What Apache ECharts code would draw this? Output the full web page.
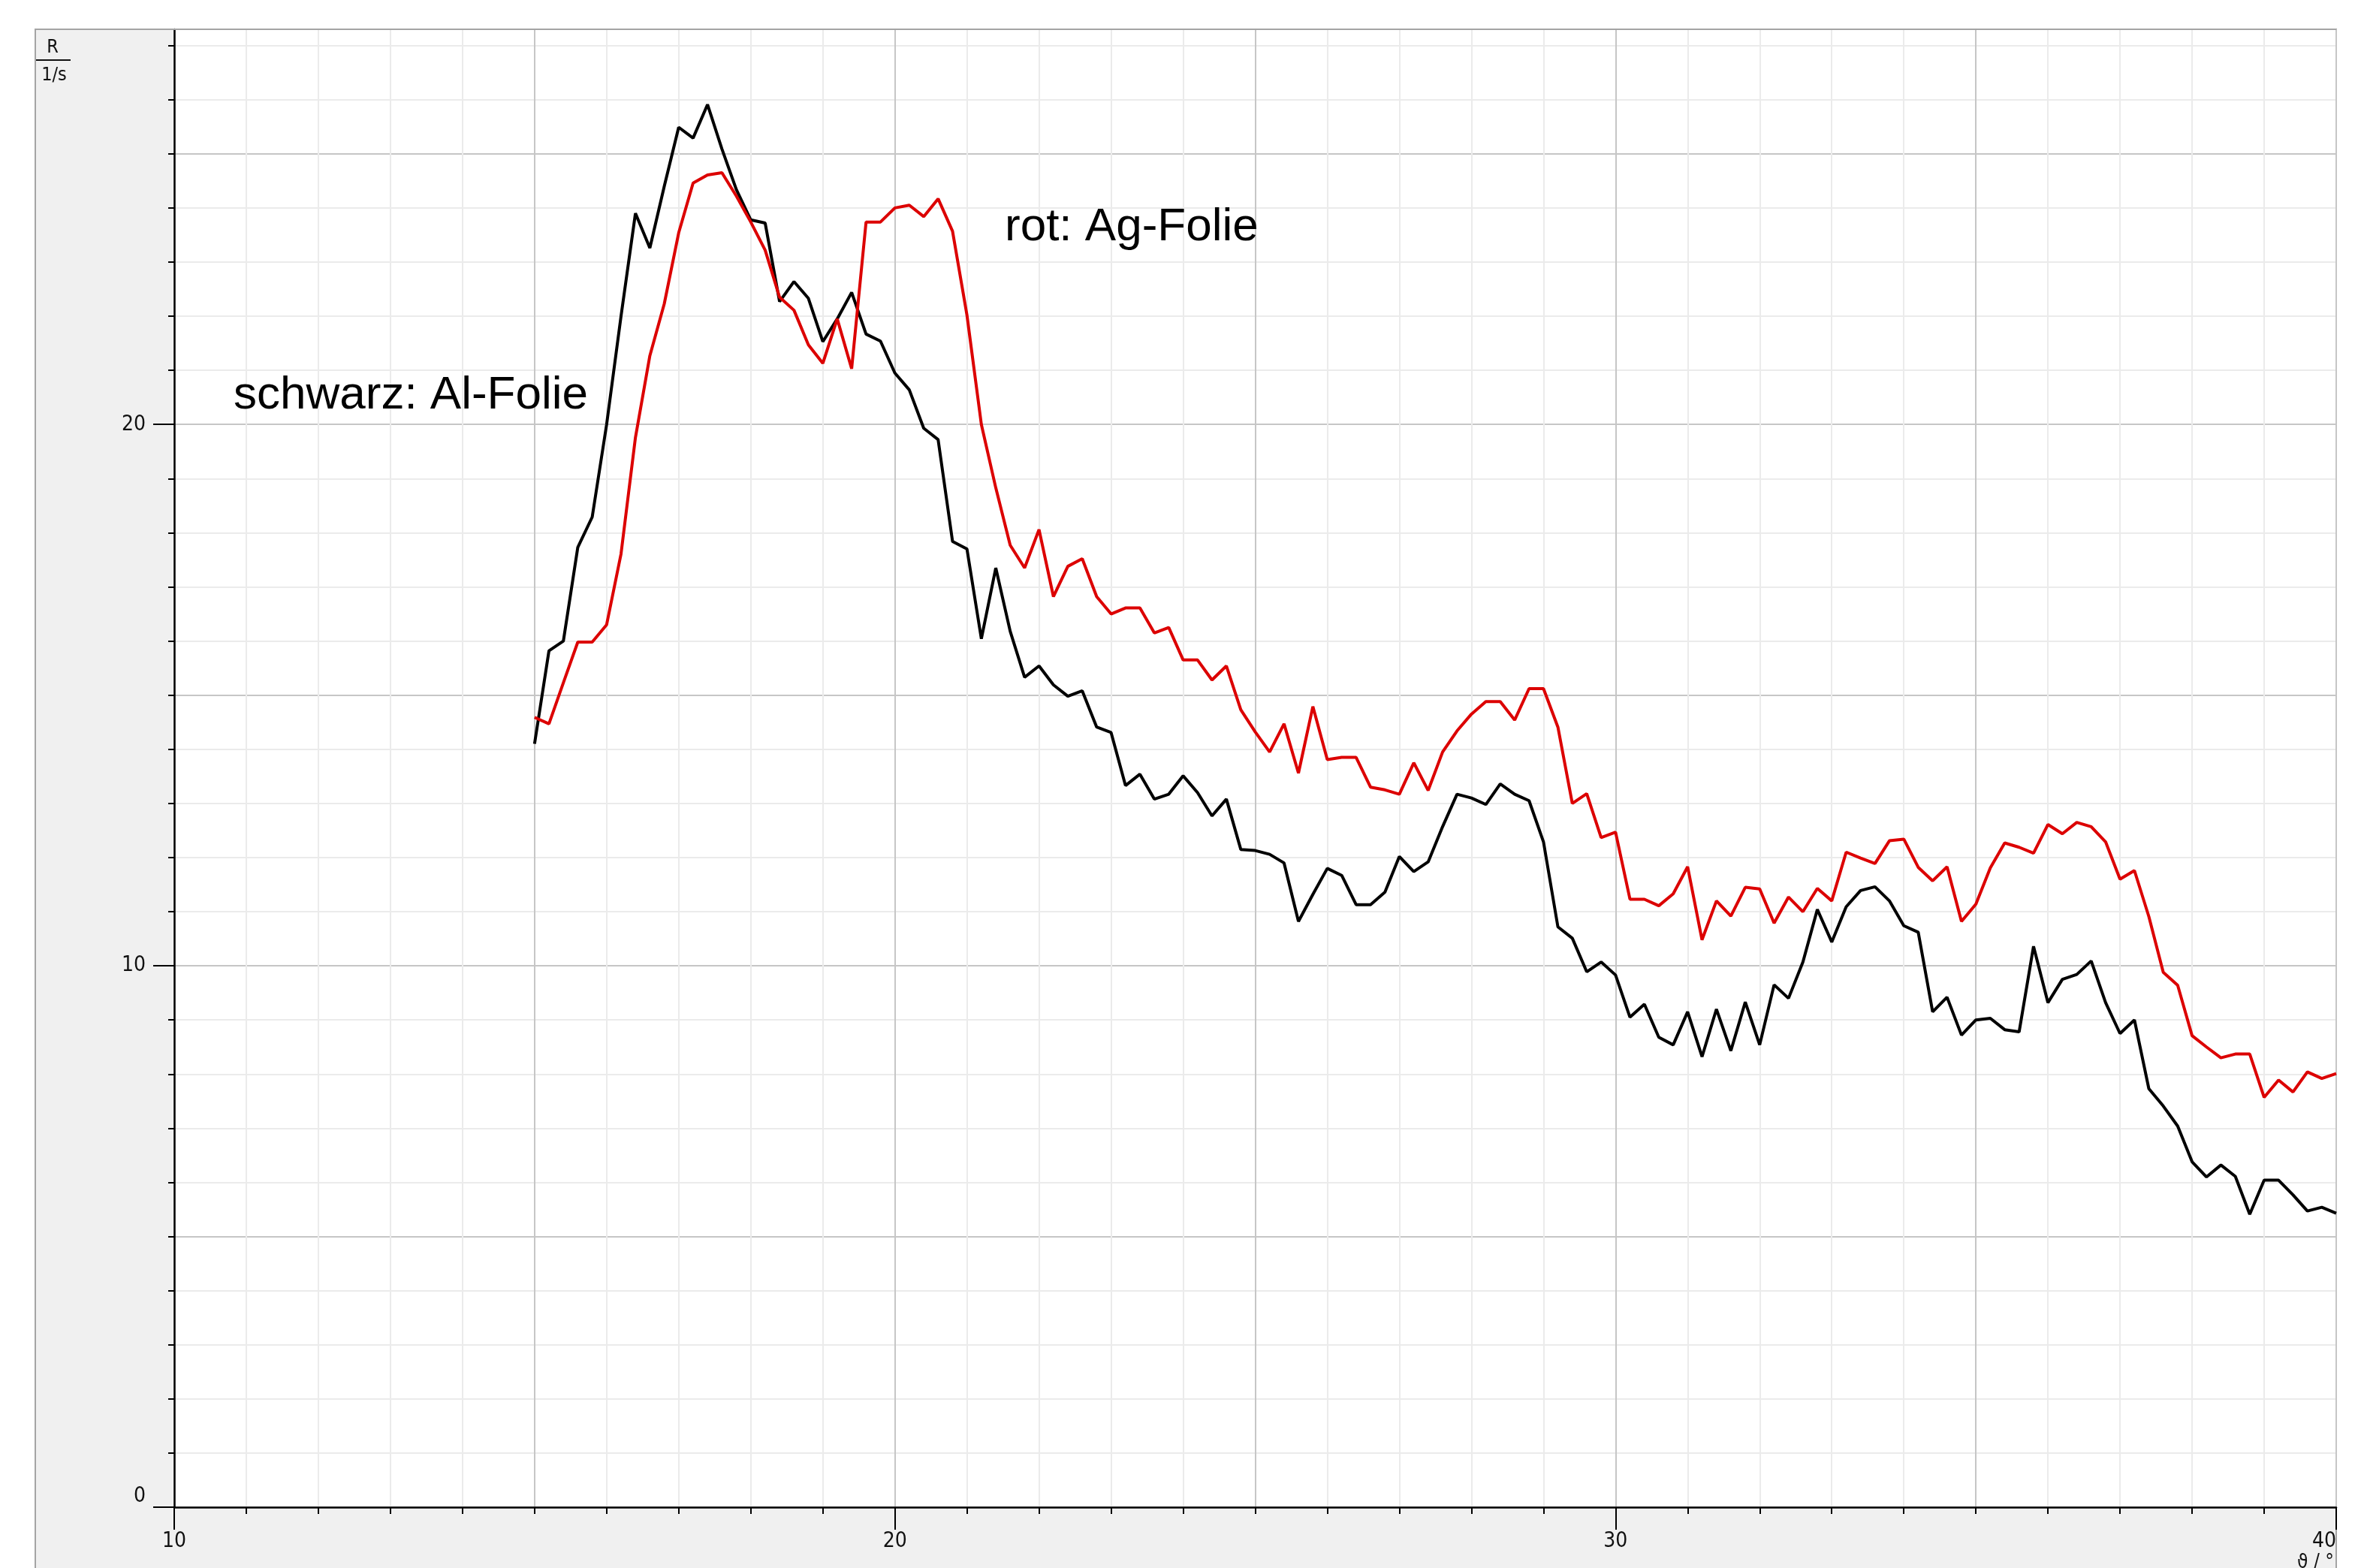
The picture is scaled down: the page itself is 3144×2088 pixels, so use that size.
<!DOCTYPE html>
<html>
<head>
<meta charset="utf-8">
<title>R über Winkel</title>
<script src="https://cdn.jsdelivr.net/npm/echarts@6/dist/echarts.min.js"></script>
<style>
  html, body { margin: 0; padding: 0; background: #fff; }
  #chart { width: 3144px; height: 2088px; }
</style>
</head>
<body>
<div id="chart"></div>
<script>
// Winkel-Raster: 15° bis 40°, Schrittweite 0.2°
const thetaStart = 15;
const thetaStep = 0.2;
const pointCount = 126;

// schwarz: Al-Folie, Zählrate R in 1/s
const rateAl = [
  14.1, 15.82, 16.0, 17.73, 18.29, 20.0, 22.0, 23.9, 23.26, 24.4,
  25.49, 25.29, 25.91, 25.09, 24.34, 23.78, 23.72, 22.27, 22.64, 22.33,
  21.53, 21.95, 22.44, 21.67, 21.54, 20.95, 20.64, 19.93, 19.72, 17.84,
  17.7, 16.04, 17.35, 16.18, 15.33, 15.54, 15.19, 14.98, 15.08, 14.41,
  14.31, 13.33, 13.54, 13.08, 13.17, 13.51, 13.2, 12.77, 13.08, 12.15,
  12.13, 12.06, 11.9, 10.82, 11.32, 11.8, 11.67, 11.13, 11.13, 11.36,
  12.02, 11.74, 11.92, 12.57, 13.17, 13.1, 12.98, 13.36, 13.17, 13.05,
  12.29, 10.72, 10.51, 9.89, 10.07, 9.83, 9.05, 9.29, 8.68, 8.54,
  9.15, 8.32, 9.2, 8.43, 9.33, 8.54, 9.65, 9.4, 10.07, 11.04,
  10.44, 11.09, 11.39, 11.46, 11.2, 10.74, 10.62, 9.15, 9.42, 8.72,
  9.0, 9.03, 8.82, 8.78, 10.36, 9.32, 9.75, 9.84, 10.09, 9.32,
  8.75, 9.0, 7.73, 7.41, 7.04, 6.38, 6.1, 6.32, 6.11, 5.41,
  6.04, 6.04, 5.77, 5.47, 5.54, 5.43
];

// rot: Ag-Folie
const rateAg = [
  14.59, 14.47, 15.23, 15.98, 15.98, 16.3, 17.61, 19.76, 21.27, 22.23,
  23.54, 24.46, 24.61, 24.65, 24.22, 23.74, 23.22, 22.35, 22.11, 21.47,
  21.13, 21.95, 21.03, 23.74, 23.74, 24.0, 24.05, 23.84, 24.17, 23.57,
  22.02, 20.0, 18.83, 17.77, 17.35, 18.06, 16.82, 17.38, 17.52, 16.82,
  16.5, 16.61, 16.61, 16.15, 16.25, 15.65, 15.65, 15.28, 15.54, 14.73,
  14.32, 13.95, 14.47, 13.56, 14.79, 13.81, 13.85, 13.85, 13.3, 13.25,
  13.17, 13.75, 13.24, 13.95, 14.34, 14.65, 14.88, 14.88, 14.54, 15.12,
  15.12, 14.41, 13.0, 13.18, 12.37, 12.47, 11.23, 11.23, 11.11, 11.33,
  11.83, 10.48, 11.2, 10.92, 11.45, 11.42, 10.79, 11.27, 11.0, 11.43,
  11.2, 12.1, 11.99, 11.89, 12.31, 12.34, 11.82, 11.57, 11.83, 10.82,
  11.14, 11.81, 12.27, 12.19, 12.08, 12.61, 12.44, 12.65, 12.57, 12.29,
  11.6, 11.76, 10.91, 9.88, 9.64, 8.71, 8.5, 8.3, 8.37, 8.37,
  7.57, 7.89, 7.67, 8.04, 7.92, 8.01
];

const xLabelTicks = [10, 20, 30, 40];
const yLabelTicks = [0, 10, 20];
const yMinorTicks = [0, 1, 2, 3, 4, 5, 6, 7, 8, 9, 10, 11, 12, 13, 14, 15, 16, 17, 18, 19, 20, 21, 22, 23, 24, 25, 26, 27];

const theta = [];
for (let i = 0; i < pointCount; i++) {
  theta.push(+(thetaStart + thetaStep * i).toFixed(1));
}

const tickFont = "'Liberation Sans Narrow', 'DejaVu Sans Condensed', sans-serif";
const textFont = "'Liberation Sans', Arial, sans-serif";
// jede 5. Gitterlinie dunkler
const gridColors = ["#c6c6c6", "#ebebeb", "#ebebeb", "#ebebeb", "#ebebeb"];
const axisColor = "#000";

const chart = echarts.init(document.getElementById("chart"));

chart.setOption({
  animation: false,
  backgroundColor: "#fff",
  grid: {
    left: 232,
    right: 33,
    top: 39,
    bottom: 81,
    show: true,
    backgroundColor: "#fff",
    borderWidth: 0,
  },
  xAxis: [
    {
      type: "value",
      position: "bottom",
      min: 10,
      max: 40,
      interval: 1,
      axisLine: { show: true, onZero: false, lineStyle: { color: axisColor, width: 2.5 } },
      axisTick: { show: true, length: 9, lineStyle: { color: axisColor, width: 2 } },
      axisLabel: { show: false },
      splitLine: { show: true, lineStyle: { color: gridColors, width: 2 } },
    },
    {
      type: "value",
      position: "bottom",
      min: 10,
      max: 40,
      interval: 10,
      axisLine: { show: false },
      axisTick: { show: true, length: 30, lineStyle: { color: axisColor, width: 2 } },
      axisLabel: {
        show: true,
        customValues: xLabelTicks,
        margin: 32,
        fontSize: 28,
        fontFamily: tickFont,
        color: "#111",
        alignMaxLabel: "right",
      },
      splitLine: { show: false },
    },
  ],
  yAxis: [
    {
      type: "value",
      position: "left",
      min: 0,
      max: 27.3,
      interval: 1,
      axisLine: { show: true, onZero: false, lineStyle: { color: axisColor, width: 2.5 } },
      axisTick: {
        show: true,
        length: 8,
        customValues: yMinorTicks,
        lineStyle: { color: axisColor, width: 2 },
      },
      axisLabel: { show: false },
      splitLine: { show: true, lineStyle: { color: gridColors, width: 2 } },
    },
    {
      type: "value",
      position: "left",
      min: 0,
      max: 27.3,
      interval: 10,
      axisLine: { show: false },
      axisTick: {
        show: true,
        length: 28,
        customValues: yLabelTicks,
        lineStyle: { color: axisColor, width: 2 },
      },
      axisLabel: {
        show: true,
        customValues: yLabelTicks,
        margin: 38,
        fontSize: 28,
        fontFamily: tickFont,
        color: "#111",
        verticalAlignMinLabel: "bottom",
      },
      splitLine: { show: false },
    },
  ],
  graphic: [
    {
      type: "rect",
      z: -5,
      silent: true,
      shape: { x: 47, y: 39, width: 3064, height: 2070 },
      style: { fill: "#f0f0f0", stroke: "#a4a4a4", lineWidth: 2 },
    },
    {
      type: "line",
      z: 50,
      silent: true,
      shape: { x1: 47, y1: 39, x2: 3111, y2: 39 },
      style: { stroke: "#a4a4a4", lineWidth: 2 },
    },
    {
      type: "text",
      z: 50,
      x: 70,
      y: 63,
      style: { text: "R", fontSize: 25, fontFamily: tickFont, fill: "#111", align: "center", verticalAlign: "middle" },
    },
    {
      type: "line",
      z: 50,
      shape: { x1: 48, y1: 80, x2: 94, y2: 80 },
      style: { stroke: "#111", lineWidth: 2 },
    },
    {
      type: "text",
      z: 50,
      x: 72,
      y: 100,
      style: { text: "1/s", fontSize: 25, fontFamily: tickFont, fill: "#111", align: "center", verticalAlign: "middle" },
    },
    {
      type: "text",
      z: 50,
      x: 3108,
      y: 2068,
      style: { text: "ϑ / °", fontSize: 26, fontFamily: tickFont, fill: "#111", align: "right", verticalAlign: "top" },
    },
    {
      type: "text",
      z: 50,
      x: 311,
      y: 527,
      style: { text: "schwarz: Al-Folie", fontSize: 62, fontFamily: textFont, fill: "#000", align: "left", verticalAlign: "middle" },
    },
    {
      type: "text",
      z: 50,
      x: 1338,
      y: 303,
      style: { text: "rot: Ag-Folie", fontSize: 62, fontFamily: textFont, fill: "#000", align: "left", verticalAlign: "middle" },
    },
  ],
  series: [
    {
      name: "Al-Folie",
      type: "line",
      xAxisIndex: 0,
      yAxisIndex: 0,
      symbol: "none",
      lineStyle: { color: "#000", width: 4 },
      data: theta.map((t, i) => [t, rateAl[i]]),
    },
    {
      name: "Ag-Folie",
      type: "line",
      xAxisIndex: 0,
      yAxisIndex: 0,
      symbol: "none",
      lineStyle: { color: "#dc0000", width: 4 },
      data: theta.map((t, i) => [t, rateAg[i]]),
    },
  ],
});
</script>
</body>
</html>
